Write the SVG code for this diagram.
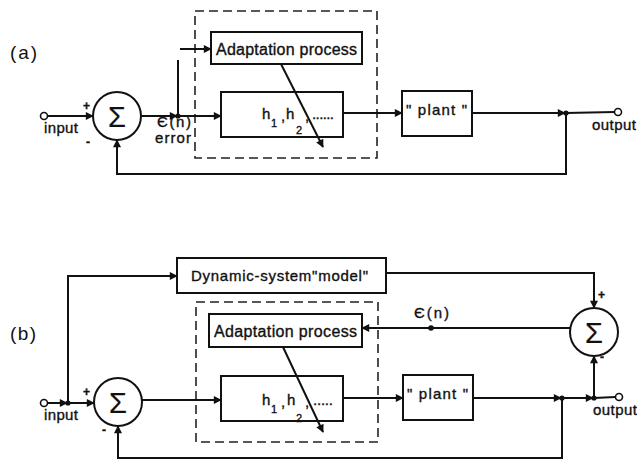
<svg xmlns="http://www.w3.org/2000/svg" width="637" height="460" viewBox="0 0 637 460">
  <style>
    .box { fill: #fff; stroke: #111; stroke-width: 2; }
    .frame { fill: none; stroke: #222; stroke-width: 1.6; stroke-dasharray: 9 5; }
    .sum { fill: #fff; stroke: #111; stroke-width: 2; }
    .wire { fill: none; stroke: #111; stroke-width: 2; }
    .term { fill: #fff; stroke: #111; stroke-width: 1.6; }
    .dot { fill: #111; }
    text { font-family: "Liberation Sans", Arial, sans-serif; fill: #111; stroke: #111; stroke-width: 0.35; }
    .lbl { font-size: 15px; }
    .big { font-size: 16px; }
    .sig { font-size: 29px; text-anchor: middle; stroke-width: 0.2; }
    .sign { font-size: 12px; font-weight: bold; }
    .part { font-size: 19px; stroke-width: 0; }
    .sub { font-size: 11px; }
  </style>
  <defs>
    <marker id="arrow" viewBox="0 0 10 10" refX="9" refY="5" markerWidth="9" markerHeight="8" markerUnits="userSpaceOnUse" orient="auto">
      <path d="M0,0 L10,5 L0,10 z" fill="#111"/>
    </marker>
  </defs>

  <!-- ===== (a) ===== -->
  <text class="part" x="10" y="59" textLength="27">(a)</text>

  <g id="a-frame"><rect class="frame" x="195" y="11" width="182" height="147"/></g>

  <g id="a-input">
    <circle class="term" cx="44" cy="116" r="3.5"/>
    <text class="lbl" x="44" y="133" textLength="34">input</text>
  </g>

  <g id="a-sum">
    <circle class="sum" cx="117" cy="116" r="24"/>
    <text class="sig" x="117" y="127">Σ</text>
    <text class="sign" x="83" y="110">+</text>
    <text class="sign" x="86" y="146">-</text>
  </g>

  <g id="a-adapt">
    <rect class="box" x="211" y="32" width="151" height="32"/>
    <text class="big" x="216" y="55" textLength="141">Adaptation process</text>
  </g>

  <g id="a-filter">
    <rect class="box" x="221" y="92" width="122" height="45"/>
    <text class="lbl" x="262" y="119">h</text>
    <text class="sub" x="271" y="127">1</text>
    <text class="lbl" x="281" y="121">,</text>
    <text class="lbl" x="286" y="119">h</text>
    <text class="sub" x="296" y="134">2</text>
    <text class="lbl" x="305" y="121">,</text>
    <text class="lbl" x="312" y="119" textLength="22">......</text>
  </g>

  <g id="a-plant">
    <rect class="box" x="402" y="91" width="70" height="45"/>
    <text class="lbl" x="406" y="115" textLength="61">" plant "</text>
  </g>

  <g id="a-error">
    <text class="lbl" x="157" y="127" textLength="34">Є(n)</text>
    <text class="lbl" x="155" y="143" textLength="36">error</text>
  </g>

  <g id="a-output">
    <circle class="term" cx="618" cy="112" r="3.5"/>
    <text class="lbl" x="592" y="130" textLength="44">output</text>
  </g>

  <g id="a-connectors">
    <line class="wire" x1="47.5" y1="116" x2="93" y2="116" marker-end="url(#arrow)"/>
    <line class="wire" x1="141" y1="116" x2="177" y2="116" marker-end="url(#arrow)"/>
    <line class="wire" x1="178" y1="116" x2="221" y2="116" marker-end="url(#arrow)"/>
    <line class="wire" x1="178" y1="116" x2="178" y2="60"/>
    <line class="wire" x1="180" y1="49" x2="211" y2="49" marker-end="url(#arrow)"/>
    <line class="wire" x1="343" y1="113" x2="402" y2="113" marker-end="url(#arrow)"/>
    <line class="wire" x1="472" y1="113" x2="565" y2="113" marker-end="url(#arrow)"/>
    <line class="wire" x1="566" y1="113" x2="614.5" y2="112"/>
    <path class="wire" d="M566,113 V174 H117 V140" marker-end="url(#arrow)"/>
    <line class="wire" x1="281" y1="64" x2="323" y2="147" marker-end="url(#arrow)"/>
    <circle class="dot" cx="178" cy="116" r="2.6"/>
    <circle class="dot" cx="566" cy="113" r="2.6"/>
  </g>

  <!-- ===== (b) ===== -->
  <text class="part" x="10" y="340" textLength="26">(b)</text>

  <g id="b-frame"><rect class="frame" x="196" y="302" width="182" height="140"/></g>

  <g id="b-input">
    <circle class="term" cx="44" cy="403" r="3.5"/>
    <text class="lbl" x="44" y="420" textLength="34">input</text>
  </g>

  <g id="b-sum-left">
    <circle class="sum" cx="118" cy="402" r="24"/>
    <text class="sig" x="118" y="413">Σ</text>
    <text class="sign" x="83" y="396">+</text>
    <text class="sign" x="102" y="434">-</text>
  </g>

  <g id="b-model">
    <rect class="box" x="177" y="258" width="209" height="35"/>
    <text class="lbl" x="191" y="281" textLength="177">Dynamic-system"model"</text>
  </g>

  <g id="b-adapt">
    <rect class="box" x="209" y="314" width="153" height="33"/>
    <text class="big" x="214" y="337" textLength="143">Adaptation process</text>
  </g>

  <g id="b-filter">
    <rect class="box" x="221" y="376" width="122" height="45"/>
    <text class="lbl" x="262" y="405">h</text>
    <text class="sub" x="271" y="413">1</text>
    <text class="lbl" x="281" y="407">,</text>
    <text class="lbl" x="287" y="405">h</text>
    <text class="sub" x="296" y="422">2</text>
    <text class="lbl" x="305" y="407">,</text>
    <text class="lbl" x="313" y="405" textLength="20">.....</text>
  </g>

  <g id="b-plant">
    <rect class="box" x="403" y="375" width="70" height="45"/>
    <text class="lbl" x="407" y="399" textLength="61">" plant "</text>
  </g>

  <g id="b-sum-right">
    <circle class="sum" cx="594" cy="332" r="24"/>
    <text class="sig" x="594" y="343">Σ</text>
    <text class="sign" x="598" y="299">+</text>
    <text class="sign" x="600" y="361">-</text>
  </g>

  <g id="b-error">
    <text class="lbl" x="414" y="318" textLength="35">Є(n)</text>
  </g>

  <g id="b-output">
    <circle class="term" cx="619" cy="397" r="3.5"/>
    <text class="lbl" x="593" y="415" textLength="44">output</text>
  </g>

  <g id="b-connectors">
    <line class="wire" x1="47.5" y1="403" x2="67" y2="403" marker-end="url(#arrow)"/>
    <line class="wire" x1="68" y1="403" x2="94" y2="403" marker-end="url(#arrow)"/>
    <path class="wire" d="M68,403 V276 H177" marker-end="url(#arrow)"/>
    <line class="wire" x1="142" y1="400" x2="221" y2="400" marker-end="url(#arrow)"/>
    <line class="wire" x1="343" y1="398" x2="403" y2="398" marker-end="url(#arrow)"/>
    <line class="wire" x1="473" y1="398" x2="561" y2="398" marker-end="url(#arrow)"/>
    <line class="wire" x1="562" y1="398" x2="593" y2="398" marker-end="url(#arrow)"/>
    <line class="wire" x1="594" y1="398" x2="615.5" y2="397"/>
    <line class="wire" x1="594" y1="398" x2="594" y2="356" marker-end="url(#arrow)"/>
    <path class="wire" d="M386,273 H594 V308" marker-end="url(#arrow)"/>
    <line class="wire" x1="570" y1="328" x2="362" y2="328" marker-end="url(#arrow)"/>
    <path class="wire" d="M562,398 V458 H118 V426" marker-end="url(#arrow)"/>
    <line class="wire" x1="283" y1="347" x2="323" y2="432" marker-end="url(#arrow)"/>
    <circle class="dot" cx="68" cy="403" r="2.6"/>
    <circle class="dot" cx="562" cy="398" r="2.6"/>
    <circle class="dot" cx="594" cy="398" r="2.6"/>
    <circle class="dot" cx="431" cy="328" r="2.8"/>
  </g>
</svg>
